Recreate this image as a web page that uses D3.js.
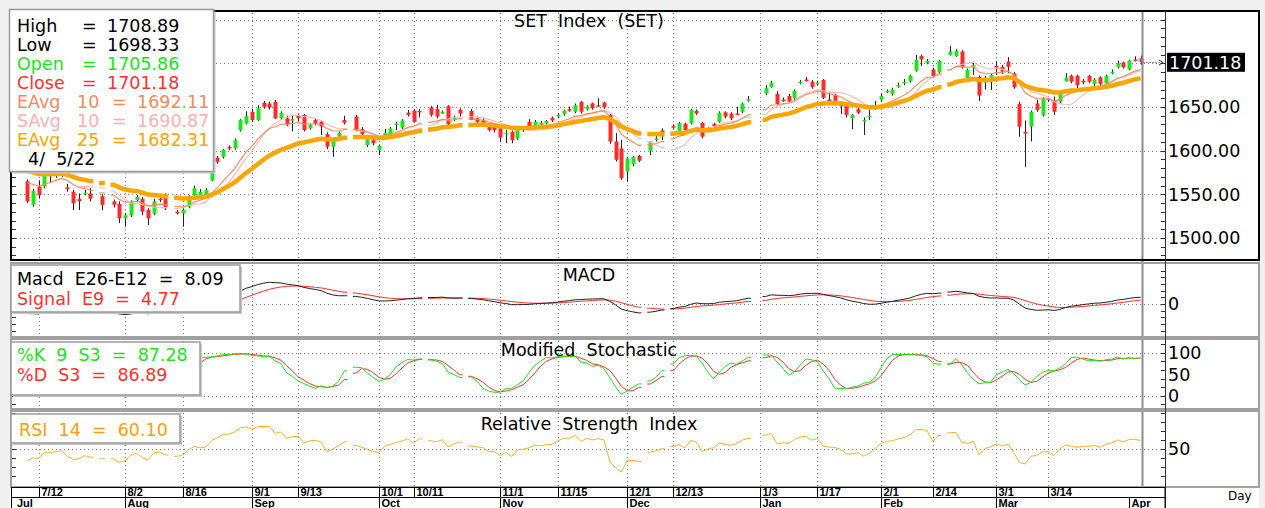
<!DOCTYPE html>
<html><head><meta charset="utf-8">
<script src="https://cdnjs.cloudflare.com/ajax/libs/d3/7.8.5/d3.min.js"></script>
<style>
body{margin:0;background:#f0f0f0;}
svg{display:block;}
text{font-family:"DejaVu Sans",sans-serif;}
.ax{font-family:"Liberation Sans",Arial,sans-serif;font-weight:bold;font-size:11px;}
</style></head>
<body><svg id="c" width="1265" height="508"></svg>
<script>
// ---------------- DATA ----------------
const firstDay = "2021-07-08", lastDay = "2022-04-05";
const holidays = ["2021-07-26","2021-07-28","2021-08-12","2021-09-24","2021-10-13","2021-10-22",
  "2021-12-06","2021-12-10","2021-12-31","2022-01-03","2022-02-16"];

const open = [
 1565,1538,1559,1559,1573,1571,1572,1558,1553,1545,1551.5,1551,
 1548,
 1542,1539,1522.5,1526,1543.5,1545,1532,1528,1545,1549,
 1530,1528,1536,1549,1549,1549,1566,1592,1593,1604.5,1602.5,1623.5,1631,1644.5,1635,1655,1654,1656,1637,1637,1635,1640,1641,1625.5,1635,1633,1619,1604.5,1616,1635,
 1639,1624.5,1606.5,1612,1600.5,1616,1618,1630,1626.5,1643.5,1646,1645.5,
 1649.5,1647.5,1643.5,1651,1636,1646.5,
 1645.5,1637,1635,1629.5,1627.5,1625.5,1620,1621.5,1614,1625.5,1633,1628,1629.5,1631.5,1637.5,1639,1642,1647.5,1644.5,1656,1647.5,1654,1652,1655,1641,1610.5,1602.5,1576,1584.5,1594,
 1600,1613,1623,
 1628,1621.5,1630.5,1631.5,1645.5,1632,1624.5,1630.5,1633,1644,1642.5,1642.5,1644.5,1658.5,
 1665.5,1673,1665,1658.5,1662.5,1660,1678,1681.5,1679,1677,1681,1658.5,1663.5,1653,1651,1637,1647.5,1634.5,1639.5,1650,1658.5,1667.5,1665,1674.5,1677.5,1680,1691.5,1708.5,1700.5,1693,1689.5,
 1709.5,1708.5,1713.5,1683,1696,1684.5,1678,1679,1697,1696,1702,1688.5,1653.5,1621.5,1627.5,1654,1641,1658,1658,1656,1679.5,1686,1685.5,1680,1685.5,1676.5,1684,1677,1689.5,1696,1701,1693,1704.5,1705.86
];
const high = [
 1567,1556,1566,1574,1580,1580,1582,1562,1555,1551,1555,1557,
 1550,
 1544,1542,1528,1543,1549,1547,1534,1545,1548,1551,
 1532,1534,1549,1560,1556,1557,1578,1594,1602,1606,1614,1636,1645,1648,1652,1657,1656,1658,1645,1640,1641,1642,1642,1631,1637,1635,1621,1613,1622,1640,
 1641,1627,1615,1614,1607,1625,1627,1633,1636,1646.5,1647,1647.5,
 1651,1652.5,1646,1652,1640,1648.5,
 1647.5,1639,1637,1631,1629,1627.5,1623.5,1623,1625,1628,1636,1635,1634,1635,1639,1643,1647,1650.5,1654,1657,1652,1655,1660,1656,1642,1620,1612,1593,1594,1595,
 1611,1620,1625.5,
 1630,1633,1632,1648,1647,1633,1627,1632,1645,1645,1644,1650,1655,1662.5,
 1675,1680,1668,1661,1665,1670,1681,1684,1681,1680,1682,1667.5,1665,1654,1653,1642,1649,1638,1646.5,1657,1665,1670,1672,1678,1682,1687,1709.5,1710,1705,1695,1704,
 1720,1716,1715,1694,1702,1686,1685.5,1688,1702,1698,1707,1690,1656,1634.5,1646,1658,1661,1662,1662,1669,1688.5,1687,1687,1682,1687,1683,1685,1687,1693,1703,1702,1704,1708,1708.89
];
const low = [
 1540,1536,1545,1557,1563,1569,1570,1553,1532,1532,1549,1542,
 1532,
 1535,1517,1513,1524,1541,1526,1515,1526,1541,1532,
 1527,1513,1534,1547,1548,1547,1565,1585,1591,1601,1601,1622,1630,1633,1634,1648,1647,1636,1635,1628,1622,1634,1622,1624,1629,1618,1602,1593,1614,1630,
 1622,1617,1604,1606,1595,1615,1616,1623.5,1625,1639,1632,1638,
 1639,1637,1642,1629,1634,1639,
 1635,1631,1629,1622,1621,1610,1608.5,1608.5,1612,1621.5,1626,1627,1628,1630,1633,1637,1640,1644.5,1643,1642.5,1646,1647,1650.5,1648,1608,1587.5,1566.5,1564.5,1582,1587,
 1595,1610.5,1612,
 1625,1620,1622,1630,1641,1614,1621,1626,1632,1637,1635,1641,1643,1656,
 1663.5,1672,1652,1656,1655,1658,1676,1679,1671,1675,1659,1657,1652,1642,1638,1624.5,1642,1618,1635,1646.5,1656,1666,1663,1672,1675,1678,1690.5,1697,1699,1683,1688,
 1709,1707.5,1694,1681,1686.5,1657,1670,1669.5,1686.5,1688,1688.5,1671,1616,1581.5,1610.5,1644.5,1639,1656,1641,1654,1679,1677,1671.5,1676,1677,1674,1674,1675,1687.5,1694,1694,1692,1702,1698.33
];
const close = [
 1542,1554,1549,1572,1572,1577,1578.5,1556,1540,1542,1552,1545,
 1538,
 1538,1522.5,1526,1542,1547,1530,1522.5,1542,1543.5,1534,
 1529,1532,1547,1557,1553,1555,1576,1587,1601,1602.5,1612,1635,1639.5,1635,1648.5,1650,1650,1637,1643,1630,1636,1637,1623.5,1629.5,1631,1627.5,1604.5,1611.5,1620.5,1632,
 1623.5,1619,1613,1608.5,1605.5,1620.5,1625.5,1631,1634.5,1641,1633,1644.5,
 1641,1639,1644.5,1630,1638,1642.5,
 1635,1633,1631.5,1623.5,1623.5,1615,1620.5,1612,1623.5,1625.5,1627.5,1633,1632,1634,1634.5,1641,1646,1646,1652,1644.5,1650.5,1648.5,1651,1649.5,1610.5,1589.5,1568.5,1591,1592.5,1588.5,
 1610.5,1614,1620.5,
 1626.5,1631.5,1623.5,1646.5,1642.5,1616,1623.5,1627.5,1643.5,1639,1637,1642,1654,1659,
 1671.5,1678,1653.5,1658,1656,1668.5,1679,1681,1673,1678,1660.5,1658,1657,1652.5,1641,1641,1643.5,1635,1640,1650.5,1662.5,1668.5,1670,1675,1678.5,1685.5,1704,1704.5,1703,1685.5,1703,
 1713.5,1714.5,1695.5,1692.5,1698,1663,1681,1686.5,1695.5,1690.5,1696,1672.5,1627.5,1620,1644.5,1646.5,1659,1660,1644.5,1667.5,1683.5,1679,1675,1679,1679,1681.5,1676.5,1685.5,1690.5,1700,1695.5,1703,1704,1701.18
];

// state of the indicators on the day before the first visible candle (estimated)
const seedEma10 = 1568, seedEma25 = 1580, seedEma12 = 1570, seedEma26 = 1580, seedSignal = -7;
const seedPrevClose = 1560, seedAvgGain = 6, seedAvgLoss = 9;

const priceLabels = [1500, 1550, 1600, 1650];
const priceGrid = [1500, 1550, 1600, 1650, 1700, 1750];
const dateTicks = [["2021-07-12","7/12"],["2021-08-02","8/2"],["2021-08-16","8/16"],["2021-09-01","9/1"],
  ["2021-09-13","9/13"],["2021-10-01","10/1"],["2021-10-11","10/11"],["2021-11-01","11/1"],["2021-11-15","11/15"],
  ["2021-12-01","12/1"],["2021-12-13","12/13"],["2022-01-03","1/3"],["2022-01-17","1/17"],["2022-02-01","2/1"],
  ["2022-02-14","2/14"],["2022-03-01","3/1"],["2022-03-14","3/14"]];
const monthTicks = [["2021-08-02","Aug"],["2021-09-01","Sep"],["2021-10-01","Oct"],["2021-11-01","Nov"],
  ["2021-12-01","Dec"],["2022-01-03","Jan"],["2022-02-01","Feb"],["2022-03-01","Mar"],["2022-04-01","Apr"]];
const firstMonth = "Jul";

const priceLegend = [
  {t:["High","=","1708.89"], c:"#000"},
  {t:["Low","=","1698.33"], c:"#000"},
  {t:["Open","=","1705.86"], c:"#19e619"},
  {t:["Close","=","1701.18"], c:"#ff3030"},
  {t:["EAvg","10","=","1692.11"], c:"#f58a5e"},
  {t:["SAvg","10","=","1690.87"], c:"#ffb0b0"},
  {t:["EAvg","25","=","1682.31"], c:"#ffa500"}
];
const legendDate = "4/  5/22";
const lastClose = "1701.18";
const macdLegend = [["Macd  E26-E12  =  8.09","#000"],["Signal  E9  =  4.77","#ff3030"]];
const stochLegend = [["%K  9  S3  =  87.28","#19e619"],["%D  S3  =  86.89","#ff3030"]];
const rsiLegend = [["RSI  14  =  60.10","#ffa000"]];

// ---------------- CALENDAR (weekday slots) ----------------
const slotOf = {}; const tradingDates = [];
(function(){
  let d = new Date(firstDay+"T00:00:00Z"); const end = new Date(lastDay+"T00:00:00Z"); let s = 0;
  while (d <= end) {
    const wd = d.getUTCDay();
    if (wd > 0 && wd < 6) {
      const k = d.toISOString().slice(0,10);
      slotOf[k] = s;
      if (!holidays.includes(k)) tradingDates.push(k);
      s++;
    }
    d.setUTCDate(d.getUTCDate()+1);
  }
})();
const N = tradingDates.length;
const slots = tradingDates.map(k => slotOf[k]);
const nSlots = slotOf[lastDay] + 1;

// ---------------- INDICATORS ----------------
function ema(vals, n, seed){ const k = 2/(n+1); let p = seed; return vals.map(v => (p = p + k*(v-p))); }
const ema10 = ema(close, 10, seedEma10);
const ema25 = ema(close, 25, seedEma25);
const sma10 = close.map((v,i) => i < 9 ? null : d3.mean(close.slice(i-9, i+1)));
const e12 = ema(close, 12, seedEma12), e26 = ema(close, 26, seedEma26);
const macd = e12.map((v,i) => v - e26[i]);
const signal = ema(macd, 9, seedSignal);
const rawK = close.map((c,i) => { const a = Math.max(0,i-8); const hh = d3.max(high.slice(a,i+1)), ll = d3.min(low.slice(a,i+1)); return hh===ll?50:(c-ll)/(hh-ll)*100; });
const slowK = rawK.map((v,i) => d3.mean(rawK.slice(Math.max(0,i-2), i+1)));
const pctD = slowK.map((v,i) => d3.mean(slowK.slice(Math.max(0,i-2), i+1)));
let ag = seedAvgGain, al = seedAvgLoss;
const rsi = close.map((c,i) => { const prev = i===0?seedPrevClose:close[i-1]; const ch = c-prev;
  ag = (ag*13 + Math.max(ch,0))/14; al = (al*13 + Math.max(-ch,0))/14; return 100 - 100/(1+ag/al); });

// ---------------- LAYOUT ----------------
const svg = d3.select("#c");
const L = 12, AX = 1165, FR = 1259, CUR = 1142.5;
const P = {top:11, bottom:261}, M = {top:263, bottom:337}, S = {top:339, bottom:409}, R = {top:411, bottom:487};
const x = d3.scaleLinear().domain([0, nSlots-1]).range([26.96, 1140.6]);
const step = x(1) - x(0);
const yP = d3.scaleLinear().domain([1474.8, 1759.9]).range([260, 11]);
const yM = d3.scaleLinear().domain([-38.3, 47.9]).range([336, 264]);
const yS = d3.scaleLinear().domain([-28.6, 131.9]).range([408, 339]);
const yR = d3.scaleLinear().domain([7.8, 91.1]).range([487, 412]);

svg.append("rect").attr("x",10).attr("y",10).attr("width",FR-10).attr("height",498).attr("fill","#fff");

const defs = svg.append("defs");
function clip(id, p){ defs.append("clipPath").attr("id",id).append("rect").attr("x",L).attr("y",p.top).attr("width",AX-L).attr("height",p.bottom-p.top); }
clip("cp",P); clip("cm",M); clip("cs",S); clip("cr",R);

const dot = "1,3", gridC = "#808080";
function vgrid(p){
  dateTicks.forEach(([k]) => svg.append("line").attr("x1",Math.round(x(slotOf[k]))+0.5).attr("x2",Math.round(x(slotOf[k]))+0.5)
    .attr("y1",p.top+2).attr("y2",p.bottom-1).attr("stroke",gridC).attr("stroke-dasharray",dot));
}
function hgrid(y){ svg.append("line").attr("x1",L).attr("x2",AX).attr("y1",Math.round(y)+0.5).attr("y2",Math.round(y)+0.5)
    .attr("stroke",gridC).attr("stroke-dasharray",dot); }

[P,M,S,R].forEach(vgrid);
priceGrid.forEach(v => hgrid(yP(v)));
hgrid(yM(0)); hgrid(yS(0)); hgrid(yS(100)); hgrid(yR(50));

// series drawing with breaks at holidays
function series(g, vals, y, color, width){
  let runs = [], cur = [];
  vals.forEach((v,i) => {
    if (v == null) { if (cur.length) runs.push(cur); cur = []; return; }
    if (cur.length && slots[i] - slots[cur[cur.length-1]] > 1) { runs.push(cur); cur = []; }
    cur.push(i);
  });
  if (cur.length) runs.push(cur);
  const line = d3.line();
  runs.forEach(r => {
    const pts = r.map(i => [x(slots[i]), y(vals[i])]);
    if (r[0] !== 0 && vals[r[0]-1] != null) pts.unshift([x(slots[r[0]]-0.5), y(vals[r[0]])]);
    if (r[r.length-1] !== N-1) pts.push([x(slots[r[r.length-1]]+0.5), y(vals[r[r.length-1]])]);
    g.append("path").attr("d", line(pts)).attr("fill","none").attr("stroke",color).attr("stroke-width",width);
  });
}

// ---- price panel
const gp = svg.append("g").attr("clip-path","url(#cp)");
const cw = 4;
for (let i = 0; i < N; i++) {
  const cx = Math.round(x(slots[i]));
  gp.append("line").attr("x1",cx+0.5).attr("x2",cx+0.5).attr("y1",yP(high[i])).attr("y2",yP(low[i])).attr("stroke","#222").attr("stroke-width",1);
  const up = close[i] >= open[i];
  const t = yP(Math.max(open[i],close[i])), b = yP(Math.min(open[i],close[i]));
  gp.append("rect").attr("x",cx-1.5).attr("y",t).attr("width",cw).attr("height",Math.max(1.5,b-t))
    .attr("fill", up ? "#1ee61e" : "#ff2b2b");
}
series(gp, sma10, yP, "#ffb8b8", 1.1);
series(gp, ema10, yP, "#f58a5e", 1.1);
series(gp, ema25, yP, "#ffa500", 4.5);

// ---- MACD
const gm = svg.append("g").attr("clip-path","url(#cm)");
series(gm, signal, yM, "#ff3030", 1);
series(gm, macd, yM, "#222", 1);
// ---- Stochastic
const gs = svg.append("g").attr("clip-path","url(#cs)");
series(gs, pctD, yS, "#ff3030", 1);
series(gs, slowK, yS, "#19e619", 1);
// ---- RSI
const gr = svg.append("g").attr("clip-path","url(#cr)");
series(gr, rsi, yR, "#ffb030", 1);

// ---- frames
svg.append("line").attr("x1",CUR).attr("x2",CUR).attr("y1",P.top).attr("y2",R.bottom).attr("stroke","#8c8c8c").attr("stroke-width",2);
[M,S,R].forEach(p => svg.append("rect").attr("x",11).attr("y",p.top).attr("width",FR-11).attr("height",p.bottom-p.top)
  .attr("fill","none").attr("stroke","#a0a0a0").attr("stroke-width",2));
svg.append("rect").attr("x",11).attr("y",P.top).attr("width",FR-11).attr("height",P.bottom-P.top-1)
  .attr("fill","none").attr("stroke","#000").attr("stroke-width",2);
svg.append("line").attr("x1",AX+0.5).attr("x2",AX+0.5).attr("y1",P.top).attr("y2",508).attr("stroke","#333");

// axis ticks
function ticks(p, y, from, to, stp){
  for (let v = from; v <= to; v += stp) {
    const yy = Math.round(y(v))+0.5; if (yy < p.top+2 || yy > p.bottom-2) continue;
    svg.append("line").attr("x1",AX-4).attr("x2",AX).attr("y1",yy).attr("y2",yy).attr("stroke","#333");
    svg.append("line").attr("x1",L).attr("x2",L+4).attr("y1",yy).attr("y2",yy).attr("stroke","#333");
  }
}
ticks(P, yP, 1480, 1760, 10); ticks(M, yM, -40, 48, 8); ticks(S, yS, -20, 130, 20); ticks(R, yR, 10, 90, 10);

// axis labels
const fs = "17.5px";
priceLabels.forEach(v => svg.append("text").attr("x",1168).attr("y",yP(v)).attr("dy","0.36em").attr("font-size",fs).text(v.toFixed(2)));
svg.append("text").attr("x",1168).attr("y",yM(0)).attr("dy","0.36em").attr("font-size",fs).text("0");
[100,50,0].forEach(v => svg.append("text").attr("x",1168).attr("y",yS(v)).attr("dy","0.36em").attr("font-size",fs).text(v));
svg.append("text").attr("x",1168).attr("y",yR(50)).attr("dy","0.36em").attr("font-size",fs).text("50");

// last price marker
const ly = yP(close[N-1]);
svg.append("line").attr("x1",CUR+1).attr("x2",AX-3).attr("y1",Math.round(ly)+0.5).attr("y2",Math.round(ly)+0.5).attr("stroke","#333").attr("stroke-dasharray","1,2");
svg.append("path").attr("d",`M${AX-6},${Math.round(ly)-2} L${AX-2},${Math.round(ly)+0.5} L${AX-6},${Math.round(ly)+3}`).attr("fill","none").attr("stroke","#333");
svg.append("rect").attr("x",1167).attr("y",ly-9.5).attr("width",78).attr("height",19).attr("fill","#000");
svg.append("text").attr("x",1169).attr("y",ly).attr("dy","0.36em").attr("font-size",fs).attr("fill","#fff").text(lastClose);

// titles
const titles = [["SET  Index  (SET)",21],["MACD",275],["Modified  Stochastic",350],["Relative  Strength  Index",424]];
titles.forEach(([t,y]) => svg.append("text").attr("x",589).attr("y",y).attr("dy","0.36em").attr("text-anchor","middle")
  .attr("font-size",fs).style("white-space","pre").text(t));

// date axis
svg.append("rect").attr("x",11.5).attr("y",487.5).attr("width",AX-11.5).attr("height",22).attr("fill","#fff").attr("stroke","#000");
svg.append("line").attr("x1",11.5).attr("x2",AX).attr("y1",497.5).attr("y2",497.5).attr("stroke","#000");
dateTicks.forEach(([k,lab]) => { const xx = Math.round(x(slotOf[k]))+0.5;
  svg.append("line").attr("x1",xx).attr("x2",xx).attr("y1",487).attr("y2",497.5).attr("stroke","#000");
  svg.append("text").attr("class","ax").attr("x",xx+2).attr("y",496).text(lab); });
monthTicks.forEach(([k,lab]) => { const xx = Math.round(x(slotOf[k]))+0.5;
  svg.append("line").attr("x1",xx).attr("x2",xx).attr("y1",497.5).attr("y2",508).attr("stroke","#000");
  svg.append("text").attr("class","ax").attr("x",xx+2).attr("y",507).text(lab); });
svg.append("text").attr("class","ax").attr("x",17).attr("y",507).text(firstMonth);
svg.append("text").attr("x",1228).attr("y",500).attr("font-family","Liberation Sans, Arial").attr("font-size","12px").text("Day");

// legends
function box(x0,y0,w,h){ svg.append("rect").attr("x",x0+2).attr("y",y0+2).attr("width",w).attr("height",h).attr("fill","#c8c8c8");
  svg.append("rect").attr("x",x0).attr("y",y0).attr("width",w).attr("height",h).attr("fill","#fff").attr("stroke","#9a9a9a").attr("stroke-width",1.5); }
box(9.5, 9.5, 204, 162);
priceLegend.forEach((r,i) => {
  const yy = 31.5 + i*19;
  const xs = r.t.length === 3 ? [17, 82, 107] : [17, 77, 112, 137];
  r.t.forEach((s,j) => svg.append("text").attr("x",xs[j]).attr("y",yy).attr("font-size",fs).attr("fill",r.c).text(s));
});
svg.append("text").attr("x",28).attr("y",165).attr("font-size",fs).style("white-space","pre").text(legendDate);

box(11, 265, 229, 47);
macdLegend.forEach(([t,c],i) => svg.append("text").attr("x",17).attr("y",284.5+i*20).attr("font-size",fs).attr("fill",c).style("white-space","pre").text(t));
box(11, 342, 189, 53);
stochLegend.forEach(([t,c],i) => svg.append("text").attr("x",17).attr("y",360.5+i*20).attr("font-size",fs).attr("fill",c).style("white-space","pre").text(t));
box(11, 414, 169, 29);
rsiLegend.forEach(([t,c],i) => svg.append("text").attr("x",19).attr("y",435.5).attr("font-size",fs).attr("fill",c).style("white-space","pre").text(t));
</script></body></html>
